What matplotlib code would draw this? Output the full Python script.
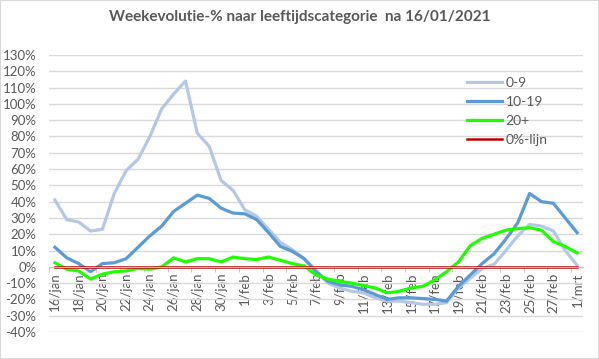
import matplotlib
matplotlib.use("Agg")
import matplotlib.pyplot as plt
from matplotlib.patches import Rectangle

# day index 0 = 16/jan ... 44 = 1/mrt
age_0_9 = [41, 29, 27.5, 22, 23, 45, 59, 66, 80, 97, 106, 114, 82, 74, 53,
           47, 35, 31, 23, 15, 10.5, 5, -2, -10, -13, -15, -16, -19, -21, -21,
           -22, -23, -23, -22, -13, -7, -1, 1.5, 10, 19, 26, 25, 22, 10, 1]
age_10_19 = [12, 5.5, 2, -3, 2, 2.5, 5, 12, 19, 25, 34, 39, 44, 42, 36,
             33, 32.5, 29, 21, 12.5, 9.5, 5, -3, -9, -11, -12, -14, -17, -20, -19,
             -19, -19.5, -20, -21, -12, -5, 2, 8, 17, 27, 45, 40, 39, 30, 21]
age_20_plus = [2.5, -1.5, -2.5, -7.5, -4.5, -3, -2.5, -1, -1.5, 0, 5.5, 3, 5, 5, 3,
               6, 5, 4.5, 6, 4, 2, 0.5, -5, -7.5, -9, -10, -11.5, -13, -16, -15,
               -13, -12, -8, -3, 3, 13, 17.5, 20, 22.5, 23.5, 24, 22.5, 15.5, 12.5, 8.5]
zero_line = [0] * 45

tick_labels = ['16/jan', '18/jan', '20/jan', '22/jan', '24/jan', '26/jan', '28/jan',
               '30/jan', '1/feb', '3/feb', '5/feb', '7/feb', '9/feb', '11/feb',
               '13/feb', '15/feb', '17/feb', '19/feb', '21/feb', '23/feb', '25/feb',
               '27/feb', '1/mrt']

plt.rcParams['font.family'] = ['Lato', 'DejaVu Sans']
grey = '#595959'

fig = plt.figure(figsize=(5.99, 3.59), dpi=100)
fig.patches.append(Rectangle((0, 0), 1, 1, transform=fig.transFigure,
                             fill=False, edgecolor='#D9D9D9', lw=1.5))
ax = fig.add_axes([0.0818, 0.0752, 0.8915, 0.7716])

x = range(len(age_0_9))
ax.plot(x, age_0_9, color='#B4C7E7', lw=2.3, label='0-9')
ax.plot(x, age_10_19, color='#5B9BD5', lw=2.3, label='10-19')
ax.plot(x, age_20_plus, color='#1EFF00', lw=2.3, label='20+')
ax.plot(x, zero_line, color='#C00000', lw=1.8, label='0%-lijn')

ax.set_xlim(-0.5, 44.5)
ax.set_ylim(-40, 130)
ax.set_yticks(range(-40, 131, 10))
ax.set_yticklabels([f'{v}%' for v in range(-40, 131, 10)])
ax.grid(axis='y', color='#D9D9D9', lw=1)
ax.set_axisbelow(True)

for s in ['top', 'right', 'left']:
    ax.spines[s].set_visible(False)
ax.spines['bottom'].set_position(('data', 0))
ax.spines['bottom'].set_color('#BFBFBF')

ax.set_xticks(range(0, 45, 2))
ax.set_xticklabels(tick_labels, rotation=90, va='top', ha='center')
ax.set_xticks([i - 0.5 for i in range(0, 46, 2)], minor=True)
ax.tick_params(axis='x', which='major', length=0, pad=4, labelsize=9.5, colors=grey)
ax.tick_params(axis='x', which='minor', length=3.5, color='#BFBFBF', direction='out')
ax.tick_params(axis='y', length=0, pad=9, labelsize=9.5, colors=grey)

fig.text(0.5, 0.952, 'Weekevolutie-% naar leeftijdscategorie  na 16/01/2021',
         ha='center', va='center', fontsize=11, fontweight='bold', color=grey)

leg = ax.legend(loc='upper left', bbox_to_anchor=(0.76, 0.965), frameon=False,
                fontsize=10, handlelength=2.5, handletextpad=0.25,
                labelspacing=0.5)
for t in leg.get_texts():
    t.set_color(grey)

fig.savefig('out.png', dpi=100)
